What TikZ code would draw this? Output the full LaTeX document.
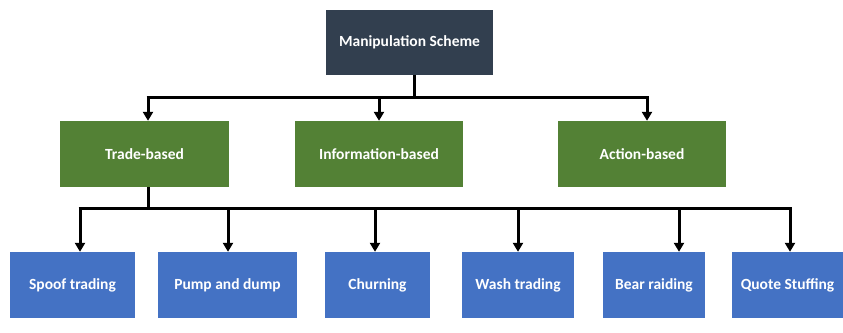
\documentclass[tikz,border=0pt]{standalone}
\usepackage{fontspec}
\setmainfont{Carlito}
\usetikzlibrary{arrows.meta}
\definecolor{navy}{HTML}{323F4F}
\definecolor{dgreen}{HTML}{538135}
\definecolor{mblue}{HTML}{4472C4}
\begin{document}
\begin{tikzpicture}[x=1pt,y=-1pt,
  box/.style={rectangle, inner sep=0pt, text=white, font=\bfseries\fontsize{15.5}{17}\selectfont, minimum height=66pt},
  topbox/.style={box, fill=navy},
  catbox/.style={box, fill=dgreen, minimum width=168pt},
  leafbox/.style={box, fill=mblue},
  conn/.style={line width=3pt, black},
  arr/.style={conn, -{Triangle[length=9pt,width=10pt]}}]
\useasboundingbox (0,0) rectangle (843,332);
\node[topbox, minimum width=167pt, minimum height=65pt] (top) at (409.5,42.5) {Manipulation Scheme};
\node[catbox, minimum width=169pt] (trade) at (144.5,154) {Trade-based};
\node[catbox] (info) at (379,154) {Information-based};
\node[catbox] (action) at (642,154) {Action-based};
\node[leafbox, minimum width=125pt] (spoof) at (72.5,285) {Spoof trading};
\node[leafbox, minimum width=139pt] (pump) at (227.5,285) {Pump and dump};
\node[leafbox, minimum width=105pt] (churn) at (377.5,285) {Churning};
\node[leafbox, minimum width=112pt] (wash) at (518,285) {Wash trading};
\node[leafbox, minimum width=102pt] (bear) at (654,285) {Bear raiding};
\node[leafbox, minimum width=111pt] (quote) at (787.5,285) {Quote Stuffing};
% first level
\coordinate (j1) at (414,97);
\coordinate (a1) at (148,97);
\coordinate (a2) at (379,97);
\coordinate (a3) at (647,97);
\draw[conn] (top.south -| j1) -- (j1);
\draw[conn] ([xshift=-1.5pt]a1) -- ([xshift=1.5pt]a3);
\draw[arr] (a1) -- (trade.north -| a1);
\draw[arr] (a2) -- (info.north -| a2);
\draw[arr] (a3) -- (action.north -| a3);
% second level
\coordinate (j2) at (148,208);
\coordinate (b1) at (80,208);
\coordinate (b2) at (228,208);
\coordinate (b3) at (375,208);
\coordinate (b4) at (518,208);
\coordinate (b5) at (679,208);
\coordinate (b6) at (790,208);
\draw[conn] (trade.south -| j2) -- (j2);
\draw[conn] ([xshift=-1.5pt]b1) -- ([xshift=1.5pt]b6);
\draw[arr] (b1) -- (spoof.north -| b1);
\draw[arr] (b2) -- (pump.north -| b2);
\draw[arr] (b3) -- (churn.north -| b3);
\draw[arr] (b4) -- (wash.north -| b4);
\draw[arr] (b5) -- (bear.north -| b5);
\draw[arr] (b6) -- (quote.north -| b6);
\end{tikzpicture}
\end{document}
